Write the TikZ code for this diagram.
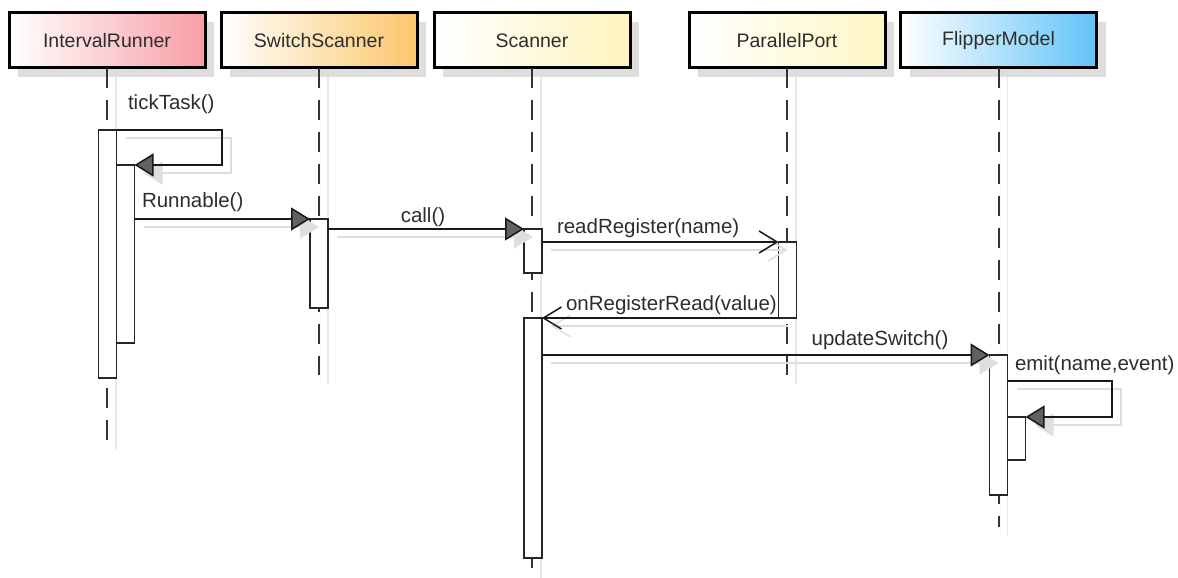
\documentclass[tikz,border=0pt]{standalone}
\usepackage{fontspec}
\setmainfont{Liberation Sans}
\usetikzlibrary{arrows.meta,shadows}

\definecolor{irc}{RGB}{247,158,166}
\definecolor{ssc}{RGB}{251,199,106}
\definecolor{scc}{RGB}{255,244,190}
\definecolor{ppc}{RGB}{254,247,196}
\definecolor{fmc}{RGB}{98,195,247}
\definecolor{ink}{RGB}{45,45,45}
\definecolor{shadowgray}{RGB}{222,222,222}

\tikzset{
  head/.style={draw=black, line width=3pt, minimum width=196pt, minimum height=55pt,
    inner sep=0pt, outer sep=0pt, font=\fontsize{19.5}{23}\selectfont, text=ink,
    drop shadow={shadow xshift=9pt, shadow yshift=-9pt, fill=shadowgray, opacity=1}},
  act/.style={draw=black!85, line width=1.5pt, fill=white, minimum width=18pt,
    inner sep=0pt, outer sep=0pt, anchor=north},
  lifeline/.style={draw=black!80, line width=2pt, dash pattern=on 20pt off 12pt},
  lifeshadow/.style={draw=black!9, line width=1.5pt},
  fillmsg/.style={draw=black!90, line width=1.5pt,
    -{Triangle[length=19pt,width=23pt,fill=black!62]}},
  openmsg/.style={draw=black!90, line width=1.5pt,
    -{Straight Barb[length=18pt,width=22pt]}},
  shfill/.style={draw=shadowgray, line width=1.5pt,
    -{Triangle[length=19pt,width=23pt,fill=shadowgray]}},
  shopen/.style={draw=shadowgray, line width=1.5pt,
    -{Straight Barb[length=18pt,width=22pt]}},
  lbl/.style={inner sep=0pt, outer sep=0pt, text=ink, font=\fontsize{20.5}{24}\selectfont},
}

% all messages of the sequence; #1 = style of synchronous calls, #2 = style of plain calls
\newcommand{\seqmessages}[2]{%
  \draw[#1] (ir1.north east) -- (tickR) |- (ir2.north east);
  \draw[#1] (ir2.east |- ss1.north) -- (ss1.north west);
  \draw[#1] (ss1.east |- sc1.north) -- (sc1.north west);
  \draw[#2] (sc1.east |- pp1.north) -- (pp1.north west);
  \draw[#2] (pp1.south west) -- (sc2.north east);
  \draw[#1] (sc2.east |- fm1.north) -- (fm1.north west);
  \draw[#1] (fm1.east |- emitR) -- (emitR) |- (fm2.north east);
}

\begin{document}
\begin{tikzpicture}[x=1pt, y=-1pt]
  \useasboundingbox (0,0) rectangle (1178,578);

  % participants
  \node[head, left color=white, right color=irc] (ir) at (107,40.5) {IntervalRunner};
  \node[head, left color=white, right color=ssc] (ss) at (319,40.5) {SwitchScanner};
  \node[head, left color=white, right color=scc] (sc) at (532,40.5) {Scanner};
  \node[head, left color=white, right color=ppc] (pp) at (787,40.5) {ParallelPort};
  \node[head, left color=white, right color=fmc] (fm) at (998.5,40.5) {FlipperModel};

  % lifeline ends
  \coordinate (irEnd) at (107,440);
  \coordinate (ssEnd) at (319,375);
  \coordinate (scEnd) at (532,578);
  \coordinate (ppEnd) at (787,375);
  \coordinate (fmEnd) at (998.5,527);

  % lifeline shadows
  \begin{scope}[transform canvas={shift={(9pt,-9pt)}}]
    \draw[lifeshadow] (ir.south) -- (irEnd);
    \draw[lifeshadow] (ss.south) -- (ssEnd);
    \draw[lifeshadow] (sc.south) -- (scEnd);
    \draw[lifeshadow] (pp.south) -- (ppEnd);
    \draw[lifeshadow] (fm.south) -- (fmEnd);
  \end{scope}

  % lifelines
  \draw[lifeline] (ir.south) -- (irEnd);
  \draw[lifeline] (ss.south) -- (ssEnd);
  \draw[lifeline] (sc.south) -- (scEnd);
  \draw[lifeline] (pp.south) -- (ppEnd);
  \draw[lifeline] (fm.south) -- (fmEnd);

  % activation bars
  \node[act, minimum height=248pt] (ir1) at (107.5,130) {};
  \node[act, minimum height=178pt, anchor=north west] (ir2) at (116.5,165) {};
  \node[act, minimum height=89pt] (ss1) at (319,219) {};
  \node[act, minimum height=44pt] (sc1) at (533,229) {};
  \node[act, minimum height=76pt] (pp1) at (787.5,242) {};
  \node[act, minimum height=240pt] (sc2) at (533,318) {};
  \node[act, minimum height=140pt] (fm1) at (998.5,355) {};
  \node[act, minimum height=43pt, anchor=north west] (fm2) at (1007.5,417) {};

  % turning points of the self calls
  \coordinate (tickR) at (222,130);
  \coordinate (emitR) at (1112,381);

  % message shadows, then messages
  \begin{scope}[transform canvas={shift={(9pt,-8pt)}}]
    \seqmessages{shfill}{shopen}
  \end{scope}
  \seqmessages{fillmsg}{openmsg}

  % message labels
  \node[lbl, anchor=base west] (lTick) at (128,110) {tickTask()};
  \node[lbl, anchor=base west] (lRun) at (142,207) {Runnable()};
  \node[lbl, anchor=base] (lCall) at (423,222) {call()};
  \node[lbl, anchor=base west] (lRead) at (557,233) {readRegister(name)};
  \node[lbl, anchor=base west] (lBack) at (566,310) {onRegisterRead(value)};
  \node[lbl, anchor=base] (lUpd) at (880,345) {updateSwitch()};
  \node[lbl, anchor=base west] (lEmit) at (1015,370) {emit(name,event)};
\end{tikzpicture}
\end{document}
